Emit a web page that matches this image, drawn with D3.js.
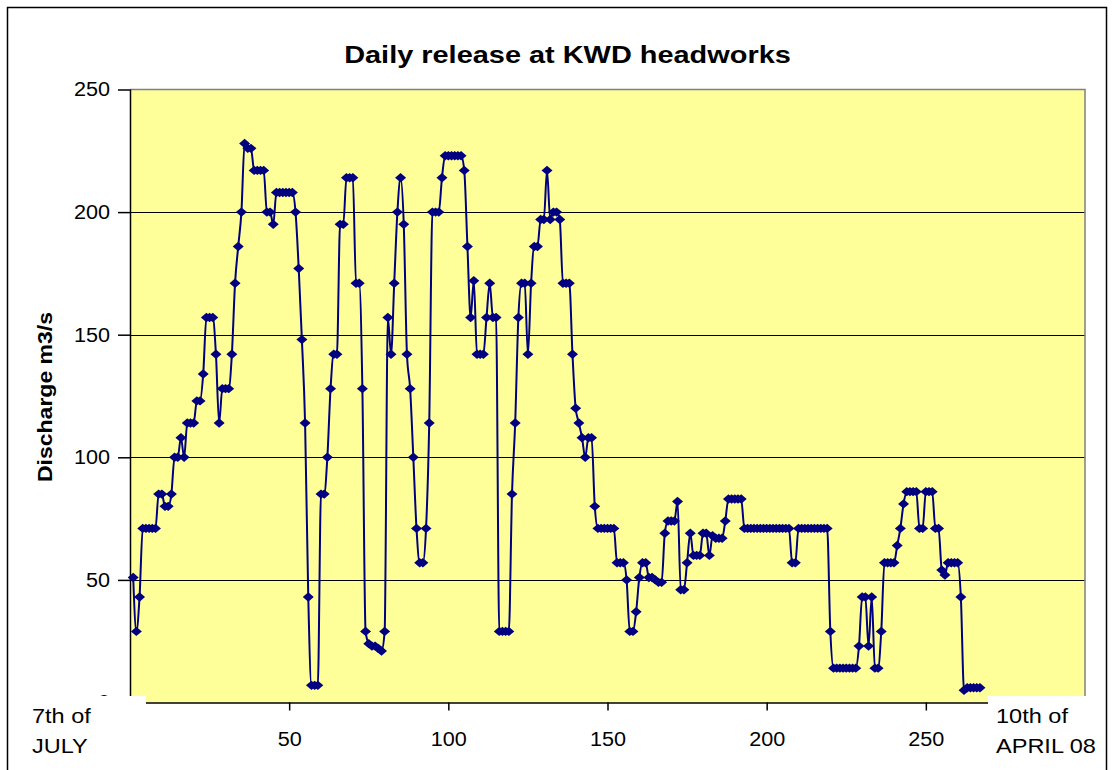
<!DOCTYPE html>
<html>
<head>
<meta charset="utf-8">
<script src="https://cdn.jsdelivr.net/npm/d3@7"></script>
<style>
  body { margin: 0; background: #fff; }
  text { font-family: Arial, "Liberation Sans", sans-serif; fill: #000; }
</style>
</head>
<body>
<svg id="chart" width="1115" height="770"></svg>
<script>
var title = "Daily release at KWD headworks";
var yLabel = "Discharge m3/s";
var startLabel = ["7th of", "JULY"];
var endLabel = ["10th of", "APRIL 08"];
var yTicks = [0, 50, 100, 150, 200, 250];
var xTicks = [50, 100, 150, 200, 250];

// one value per day, 7th July onwards
var discharge = [
  51, 29, 43, 71, 71, 71, 71, 71, 85, 85,
  80, 80, 85, 100, 100, 108, 100, 114, 114, 114,
  123, 123, 134, 157, 157, 157, 142, 114, 128, 128,
  128, 142, 171, 186, 200, 228, 226, 226, 217, 217,
  217, 217, 200, 200, 195, 208, 208, 208, 208, 208,
  208, 200, 177, 148, 114, 43, 7, 7, 7, 85,
  85, 100, 128, 142, 142, 195, 195, 214, 214, 214,
  171, 171, 128, 29, 24, 23, 23, 22, 21, 29,
  157, 142, 171, 200, 214, 195, 142, 128, 100, 71,
  57, 57, 71, 114, 200, 200, 200, 214, 223, 223,
  223, 223, 223, 223, 217, 186, 157, 172, 142, 142,
  142, 157, 171, 157, 157, 29, 29, 29, 29, 85,
  114, 157, 171, 171, 142, 171, 186, 186, 197, 197,
  217, 197, 200, 200, 197, 171, 171, 171, 142, 120,
  114, 108, 100, 108, 108, 80, 71, 71, 71, 71,
  71, 71, 57, 57, 57, 50, 29, 29, 37, 51,
  57, 57, 51, 51, 50, 49, 49, 69, 74, 74,
  74, 82, 46, 46, 57, 69, 60, 60, 60, 69,
  69, 60, 68, 67, 67, 67, 74, 83, 83, 83,
  83, 83, 71, 71, 71, 71, 71, 71, 71, 71,
  71, 71, 71, 71, 71, 71, 71, 57, 57, 71,
  71, 71, 71, 71, 71, 71, 71, 71, 71, 29,
  14, 14, 14, 14, 14, 14, 14, 14, 23, 43,
  43, 23, 43, 14, 14, 29, 57, 57, 57, 57,
  64, 71, 81, 86, 86, 86, 86, 71, 71, 86,
  86, 86, 71, 71, 54, 52, 57, 57, 57, 57,
  43, 5, 6, 6, 6, 6, 6
];

var svg = d3.select('#chart');

var plotLeft = 130, plotRight = 1085, plotTop = 89.5, plotBottom = 702.5;

var x = d3.scaleLinear().domain([0, 300]).range([plotLeft, plotRight]);
var y = d3.scaleLinear().domain([0, 250]).range([plotBottom, plotTop]);

// widen glyphs a little, the source text is wider than Arial
var stretch = function(sel, k) {
  sel.each(function() {
    var len = this.getComputedTextLength();
    d3.select(this).attr('textLength', len * k).attr('lengthAdjust', 'spacingAndGlyphs');
  });
};

// chart border
svg.append('rect')
  .attr('x', 7.5).attr('y', 7.5)
  .attr('width', 1099).attr('height', 800)
  .attr('fill', '#fff')
  .attr('stroke', '#000')
  .attr('stroke-width', 1.5);

// plot area
svg.append('rect')
  .attr('x', plotLeft).attr('y', plotTop)
  .attr('width', plotRight - plotLeft).attr('height', plotBottom - plotTop)
  .attr('fill', '#FFFF99');

svg.append('g')
  .selectAll('line')
  .data(yTicks.filter(function(d) { return d > 0 && d < 250; }))
  .enter()
  .append('line')
  .attr('x1', plotLeft).attr('x2', plotRight)
  .attr('y1', function(d) { return Math.round(y(d)) + 0.5; })
  .attr('y2', function(d) { return Math.round(y(d)) + 0.5; })
  .attr('stroke', '#000')
  .attr('stroke-width', 1);

svg.append('path')
  .attr('d', 'M' + plotLeft + ',' + plotTop + 'H' + plotRight + 'V' + plotBottom)
  .attr('fill', 'none')
  .attr('stroke', '#808080')
  .attr('stroke-width', 1.5);

// axes
var yAxis = svg.append('g')
  .attr('transform', 'translate(' + plotLeft + ',0)')
  .call(d3.axisLeft(y).tickValues(yTicks).tickSize(12).tickPadding(8));

var xAxis = svg.append('g')
  .attr('transform', 'translate(0,' + plotBottom + ')')
  .call(d3.axisBottom(x).tickValues(xTicks).tickSize(8).tickPadding(21));

[yAxis, xAxis].forEach(function(ax) {
  ax.select('.domain').attr('stroke', '#000').attr('stroke-width', 1.5);
  ax.selectAll('.tick line').attr('stroke', '#000').attr('stroke-width', 1.5);
  ax.selectAll('.tick text')
    .style('font-family', 'Arial, "Liberation Sans", sans-serif')
    .style('font-size', '20px')
    .attr('fill', '#000');
});
yAxis.select('.domain').attr('d', 'M0.5,' + plotTop + 'V' + plotBottom);
xAxis.select('.domain').attr('d', 'M' + plotLeft + ',0.5H' + plotRight);
stretch(yAxis.selectAll('.tick text'), 1.08);
stretch(xAxis.selectAll('.tick text'), 1.08);

// series
var line = d3.line()
  .x(function(d, i) { return x(i + 1); })
  .y(function(d) { return y(d); })
  .curve(d3.curveMonotoneX);

svg.append('path')
  .datum(discharge)
  .attr('d', line)
  .attr('fill', 'none')
  .attr('stroke', '#000080')
  .attr('stroke-width', 2);

svg.append('g')
  .selectAll('path')
  .data(discharge)
  .enter()
  .append('path')
  .attr('d', 'M0,-4.7L5.5,0L0,4.7L-5.5,0Z')
  .attr('transform', function(d, i) { return 'translate(' + x(i + 1) + ',' + y(d) + ')'; })
  .attr('fill', '#000080');

// date text boxes at both ends of the axis
svg.append('rect')
  .attr('x', 28).attr('y', 696)
  .attr('width', 118).attr('height', 66)
  .attr('fill', '#fff');

svg.append('rect')
  .attr('x', 988).attr('y', 696)
  .attr('width', 117).attr('height', 66)
  .attr('fill', '#fff');

var corner = svg.append('g').style('font-size', '21px');
corner.selectAll('text.start')
  .data(startLabel)
  .enter()
  .append('text')
  .attr('class', 'start')
  .attr('x', 32)
  .attr('y', function(d, i) { return 722.5 + i * 30; })
  .text(function(d) { return d; });
corner.selectAll('text.end')
  .data(endLabel)
  .enter()
  .append('text')
  .attr('class', 'end')
  .attr('x', 996)
  .attr('y', function(d, i) { return 722.5 + i * 30; })
  .text(function(d) { return d; });
stretch(corner.selectAll('text'), 1.12);

// titles
var t = svg.append('text')
  .attr('x', 567.5).attr('y', 62.5)
  .attr('text-anchor', 'middle')
  .style('font-size', '24.5px')
  .style('font-weight', 'bold')
  .text(title);
stretch(t, 1.18);

var yl = svg.append('text')
  .attr('transform', 'translate(52,397) rotate(-90)')
  .attr('text-anchor', 'middle')
  .style('font-size', '20px')
  .style('font-weight', 'bold')
  .text(yLabel);
stretch(yl, 1.15);
</script>
</body>
</html>
